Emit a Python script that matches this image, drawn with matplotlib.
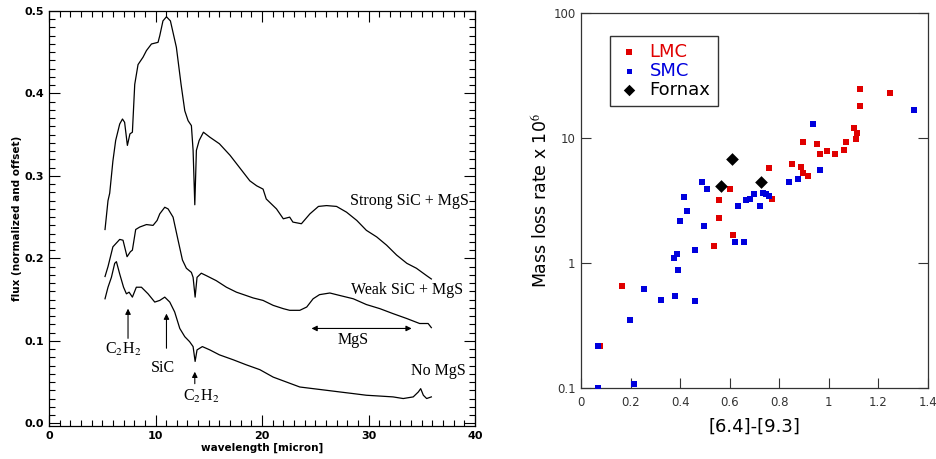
import numpy as np
import matplotlib
matplotlib.use('Agg')
import matplotlib.pyplot as plt
from matplotlib.ticker import MultipleLocator, NullLocator, FixedLocator

# spectra (wavelength [micron], flux)
wl_strong = [5.26, 5.54, 5.7, 6.0, 6.26, 6.64, 6.9, 7.1, 7.36, 7.6, 7.83, 8.05, 8.36, 8.83,
             9.15, 9.62, 10.24, 10.4, 10.7, 11.03, 11.4, 11.96, 12.4, 12.75, 13.06, 13.37,
             13.53, 13.69, 13.84, 14.1, 14.5, 15.1, 16.0, 17.0, 17.9, 18.86, 19.5, 20.1,
             20.4, 21.36, 22.0, 22.6, 22.9, 23.7, 24.5, 25.3, 26.06, 27.0, 27.94, 28.9,
             29.8, 30.77, 31.7, 32.64, 33.6, 34.5, 35.46, 35.9]
fl_strong = [0.235, 0.270, 0.279, 0.318, 0.343, 0.363, 0.369, 0.365, 0.337, 0.351, 0.353,
             0.411, 0.435, 0.444, 0.452, 0.460, 0.462, 0.470, 0.488, 0.493, 0.488, 0.456,
             0.411, 0.379, 0.367, 0.361, 0.331, 0.265, 0.331, 0.343, 0.353, 0.347, 0.339,
             0.325, 0.310, 0.294, 0.288, 0.284, 0.272, 0.260, 0.248, 0.250, 0.244, 0.242,
             0.254, 0.263, 0.264, 0.263, 0.256, 0.246, 0.234, 0.226, 0.216, 0.204, 0.194,
             0.188, 0.179, 0.175]

wl_weak = [5.26, 5.54, 6.0, 6.64, 6.95, 7.33, 7.64, 7.83, 8.14, 8.52, 9.15, 9.77, 10.15,
           10.4, 10.87, 11.18, 11.65, 12.12, 12.53, 12.9, 13.37, 13.53, 13.72, 13.9, 14.3,
           14.78, 15.7, 16.66, 17.6, 18.5, 19.17, 20.1, 21.05, 22.0, 22.6, 23.55, 24.2,
           24.8, 25.4, 26.37, 27.3, 28.57, 29.8, 31.07, 32.3, 33.6, 34.8, 35.6, 35.9]
fl_weak = [0.178, 0.190, 0.214, 0.223, 0.222, 0.202, 0.208, 0.210, 0.235, 0.238, 0.241,
           0.240, 0.246, 0.254, 0.262, 0.260, 0.250, 0.222, 0.198, 0.188, 0.183, 0.177,
           0.153, 0.177, 0.182, 0.179, 0.173, 0.165, 0.159, 0.155, 0.152, 0.149, 0.143,
           0.139, 0.137, 0.137, 0.141, 0.151, 0.156, 0.158, 0.155, 0.151, 0.144, 0.139,
           0.133, 0.127, 0.121, 0.121, 0.116]

wl_none = [5.26, 5.54, 5.86, 6.17, 6.33, 6.64, 7.0, 7.27, 7.52, 7.83, 8.2, 8.68, 9.3, 9.93,
           10.4, 10.87, 11.34, 11.8, 12.28, 12.75, 13.2, 13.53, 13.72, 13.9, 14.4, 15.1,
           16.0, 17.3, 18.5, 19.8, 21.05, 22.3, 23.55, 24.8, 26.06, 27.3, 28.57, 29.8,
           31.07, 32.3, 33.26, 34.2, 34.68, 34.9, 35.15, 35.46, 35.9]
fl_none = [0.151, 0.165, 0.177, 0.194, 0.196, 0.181, 0.165, 0.157, 0.159, 0.153, 0.165,
           0.165, 0.157, 0.147, 0.149, 0.153, 0.147, 0.135, 0.115, 0.105, 0.099, 0.093,
           0.075, 0.089, 0.093, 0.089, 0.083, 0.077, 0.071, 0.065, 0.056, 0.050, 0.044,
           0.042, 0.040, 0.038, 0.036, 0.034, 0.033, 0.032, 0.030, 0.032, 0.038, 0.042,
           0.034, 0.030, 0.032]

# right panel: colour [6.4]-[9.3] vs mass loss rate x 10^6
lmc_x = [0.165, 0.538, 0.555, 0.558, 0.602, 0.613, 0.758, 0.769, 0.853, 0.886, 0.896,
         0.916, 0.897, 0.952, 0.963, 0.994, 1.026, 1.061, 1.068, 1.100, 1.114, 1.111,
         1.127, 1.126, 1.245, 0.075]
lmc_y = [0.653, 1.38, 2.28, 3.17, 3.94, 1.69, 5.76, 3.25, 6.17, 5.83, 5.25, 4.97, 9.31,
         8.92, 7.38, 7.94, 7.38, 7.98, 9.31, 11.99, 10.9, 9.9, 17.9, 24.8, 22.7, 0.217]

smc_x = [0.067, 0.067, 0.215, 0.198, 0.254, 0.324, 0.378, 0.459, 0.390, 0.374, 0.387,
         0.460, 0.398, 0.428, 0.495, 0.416, 0.488, 0.508, 0.620, 0.658, 0.633, 0.667,
         0.680, 0.699, 0.723, 0.734, 0.748, 0.757, 0.839, 0.874, 0.966, 0.937, 1.342]
smc_y = [0.217, 0.100, 0.108, 0.349, 0.614, 0.504, 0.540, 0.495, 0.877, 1.09, 1.19, 1.28,
         2.18, 2.59, 1.98, 3.35, 4.48, 3.94, 1.48, 1.48, 2.86, 3.17, 3.27, 3.57, 2.86,
         3.61, 3.57, 3.46, 4.45, 4.73, 5.55, 12.98, 16.8]

fornax_x = [0.566, 0.609, 0.725]
fornax_y = [4.13, 6.85, 4.45]

plt.rcParams['mathtext.fontset'] = 'stix'

fig = plt.figure(figsize=(9.36, 4.59), dpi=100)

# ---- left panel
ax1 = fig.add_axes([49 / 936, 1 - 426 / 459, 426 / 936, 415 / 459])
for wl, fl in [(wl_strong, fl_strong), (wl_weak, fl_weak), (wl_none, fl_none)]:
    ax1.plot(wl, fl, color='black', lw=0.9)
ax1.set_xlim(0, 40)
ax1.set_ylim(-0.0033, 0.5)
ax1.xaxis.set_major_locator(MultipleLocator(10))
ax1.xaxis.set_minor_locator(MultipleLocator(1))
ax1.yaxis.set_major_locator(MultipleLocator(0.1))
ax1.yaxis.set_minor_locator(MultipleLocator(0.01))
ax1.tick_params(which='both', direction='in', top=True, right=True, width=0.8)
ax1.tick_params(which='major', length=8, labelsize=8)
ax1.tick_params(which='minor', length=4)
ax1.set_xticks([0, 10, 20, 30, 40])
ax1.set_xticklabels(['0', '10', '20', '30', '40'], fontweight='bold')
ax1.set_yticks([0.0, 0.1, 0.2, 0.3, 0.4, 0.5])
ax1.set_yticklabels(['0.0', '0.1', '0.2', '0.3', '0.4', '0.5'], fontweight='bold')
ax1.set_xlabel('wavelength [micron]', fontsize=7.5, fontweight='bold', labelpad=1)
ax1.set_ylabel('flux (normalized and offset)', fontsize=7.5, fontweight='bold', labelpad=2)
for sp in ax1.spines.values():
    sp.set_linewidth(0.9)

serif = dict(family='Liberation Serif', fontsize=11.5)
arr = dict(arrowstyle='-|>', lw=0.8, color='black', mutation_scale=8, shrinkA=0, shrinkB=0)
ax1.annotate('', xy=(7.42, 0.139), xytext=(7.42, 0.103), arrowprops=arr)
ax1.annotate('', xy=(11.03, 0.133), xytext=(11.03, 0.091), arrowprops=arr)
ax1.annotate('', xy=(13.69, 0.0625), xytext=(13.69, 0.048), arrowprops=arr)
ax1.annotate('', xy=(24.65, 0.115), xytext=(34.05, 0.115),
             arrowprops=dict(arrowstyle='<|-|>', lw=0.8, color='black', mutation_scale=8,
                             shrinkA=0, shrinkB=0))
ax1.text(6.95, 0.089, r'C$_2$H$_2$', ha='center', va='center', **serif)
ax1.text(10.7, 0.0665, 'SiC', ha='center', va='center', **serif)
ax1.text(14.25, 0.032, r'C$_2$H$_2$', ha='center', va='center', **serif)
ax1.text(28.57, 0.101, 'MgS', ha='center', va='center', **serif)
ax1.text(39.4, 0.270, 'Strong SiC + MgS', ha='right', va='center', **serif)
ax1.text(38.84, 0.162, 'Weak SiC + MgS', ha='right', va='center', **serif)
ax1.text(39.15, 0.064, 'No MgS', ha='right', va='center', **serif)

# ---- right panel
ax2 = fig.add_axes([581 / 936, 1 - 388 / 459, 347 / 936, 375 / 459])
ax2.set_yscale('log')
ax2.scatter(lmc_x, lmc_y, marker='s', s=22, color='#e00000', lw=0, label='LMC', zorder=2)
ax2.scatter(smc_x, smc_y, marker='s', s=16, color='#0000dd', lw=0, label='SMC', zorder=3)
ax2.scatter(fornax_x, fornax_y, marker='D', s=42, color='black', lw=0, label='Fornax', zorder=4)
ax2.set_xlim(0, 1.4)
ax2.set_ylim(0.1, 100)
ax2.xaxis.set_major_locator(FixedLocator([0, 0.2, 0.4, 0.6, 0.8, 1.0, 1.2, 1.4]))
ax2.set_xticklabels(['0', '0.2', '0.4', '0.6', '0.8', '1', '1.2', '1.4'])
ax2.set_yticks([0.1, 1, 10, 100])
ax2.set_yticklabels(['0.1', '1', '10', '100'])
ax2.yaxis.set_minor_locator(NullLocator())
ax2.tick_params(which='major', direction='in', length=7, width=0.8, right=True,
                labelsize=8.5, colors='#333333', pad=6)
ax2.tick_params(axis='y', pad=4)
ax2.set_xlabel('[6.4]-[9.3]', fontsize=13, labelpad=6)
ax2.set_ylabel(r'Mass loss rate x 10$^6$', fontsize=12.5, labelpad=2)
for sp in ax2.spines.values():
    sp.set_linewidth(0.9)
    sp.set_color('#333333')

leg = ax2.legend(loc='upper left', bbox_to_anchor=(29 / 347, 1 - 23 / 375), borderaxespad=0,
                 fontsize=13, frameon=True, fancybox=False, edgecolor='black',
                 handletextpad=0.5, borderpad=0.4, labelspacing=0.05, handlelength=1.3,
                 markerscale=0.9)
leg.get_frame().set_linewidth(1.0)
for txt, c in zip(leg.get_texts(), ['#e00000', '#0000dd', 'black']):
    txt.set_color(c)

fig.savefig('out.png', dpi=100)
